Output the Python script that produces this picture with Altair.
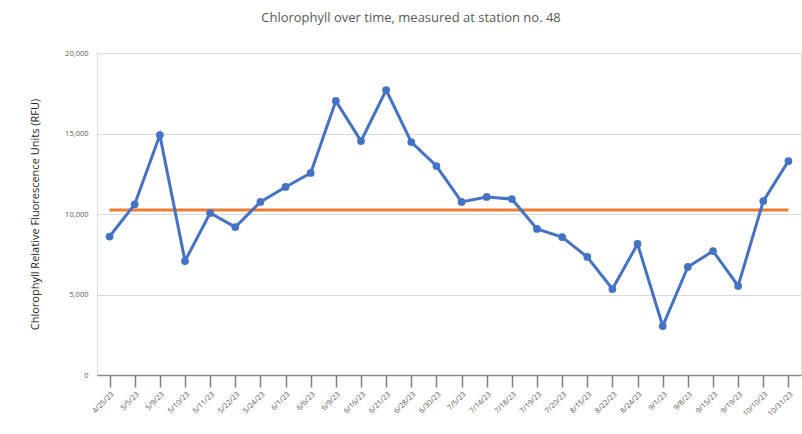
import altair as alt
import pandas as pd

# Sampling dates at station no. 48
dates = [
    "4/25/23", "5/5/23", "5/9/23", "5/10/23", "5/11/23", "5/22/23", "5/24/23",
    "6/1/23", "6/6/23", "6/9/23", "6/16/23", "6/21/23", "6/28/23", "6/30/23",
    "7/5/23", "7/14/23", "7/18/23", "7/19/23", "7/20/23", "8/15/23", "8/22/23",
    "8/24/23", "9/1/23", "9/8/23", "9/15/23", "9/19/23", "10/10/23", "10/31/23",
]

# Chlorophyll readings (RFU)
chlorophyll = [
    8600, 10600, 14900, 7080, 10060, 9190, 10750,
    11680, 12550, 17020, 14530, 17700, 14470, 12980,
    10750, 11060, 10930, 9070, 8570, 7330, 5340,
    8140, 3040, 6710, 7700, 5530, 10800, 13290,
]

# Reference level drawn across the whole season
reference_level = [10250] * len(dates)

df = pd.DataFrame({
    "date": dates,
    "order": list(range(len(dates))),
    "rfu": chlorophyll,
    "ref": reference_level,
})

x_enc = alt.X(
    "date:N",
    sort=dates,
    title=None,
    scale=alt.Scale(paddingInner=1, paddingOuter=0.37),
    axis=alt.Axis(
        labelAngle=-45,
        labelAlign="right",
        labelBaseline="top",
        labelFontSize=7.5,
        labelColor="#595959",
        labelPadding=3,
        tickSize=12,
        tickColor="#7f7f7f",
        tickWidth=1.5,
        domainColor="#8c8c8c",
        domainWidth=1.5,
        grid=False,
    ),
)

y_scale = alt.Scale(domain=[0, 20000])
y_axis = alt.Axis(
    values=[0, 5000, 10000, 15000, 20000],
    format=",.0f",
    labelFontSize=7.5,
    labelColor="#595959",
    labelPadding=9,
    domain=False,
    ticks=False,
    gridColor="#d9d9d9",
    gridWidth=1,
    title="Chlorophyll Relative Fluorescence Units (RFU)",
    titleFontSize=11,
    titleFontWeight="normal",
    titleColor="#262626",
    titlePadding=24,
)

base = alt.Chart(df)

ref_line = base.mark_line(color="#ED7D31", strokeWidth=3).encode(
    x=x_enc,
    y=alt.Y("ref:Q", scale=y_scale, axis=y_axis),
)

rfu_line = base.mark_line(color="#4472C4", strokeWidth=3).encode(
    x=x_enc,
    y=alt.Y("rfu:Q", scale=y_scale, axis=y_axis),
    order="order:Q",
)

rfu_points = base.mark_circle(color="#4472C4", size=60, opacity=1).encode(
    x=x_enc,
    y=alt.Y("rfu:Q", scale=y_scale, axis=y_axis),
)

chart = (
    alt.layer(ref_line, rfu_line, rfu_points)
    .properties(
        width=704,
        height=322,
        autosize=alt.AutoSizeParams(type="none"),
        padding={"left": 97, "top": 53, "right": 1, "bottom": 59},
        title=alt.TitleParams(
            "Chlorophyll over time, measured at station no. 48",
            fontSize=13,
            fontWeight="normal",
            color="#595959",
            font="Open Sans",
            anchor="middle",
            dx=-38,
            offset=24,
        ),
    )
    .configure_view(stroke=None)
    .configure(font="Open Sans")
)

chart.save("out.html", embed_options={"renderer": "svg", "actions": False})
